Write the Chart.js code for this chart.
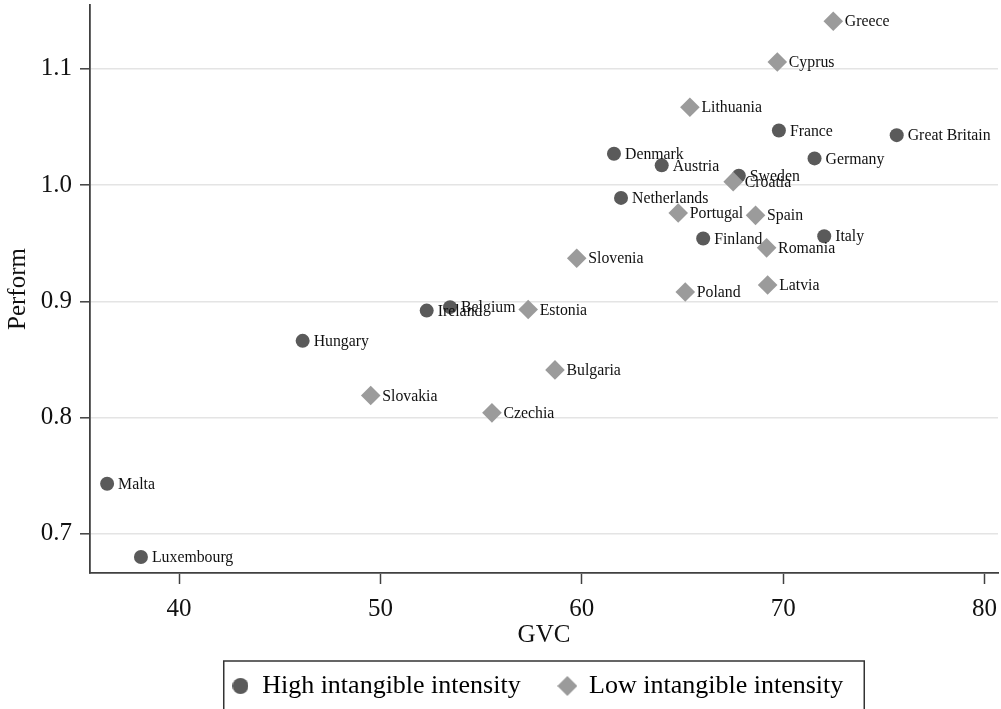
<!DOCTYPE html>
<html>
<head>
<meta charset="utf-8">
<script src="https://cdn.jsdelivr.net/npm/chart.js@4/dist/chart.umd.min.js"></script>
<style>
  html, body { margin: 0; padding: 0; background: #ffffff; }
  #wrap { width: 1001px; height: 709px; position: relative; }
</style>
</head>
<body>
<div id="wrap"><canvas id="c" width="1001" height="709"></canvas></div>
<script>
// ---- Data ----
const highNames = ['Malta','Luxembourg','Hungary','Ireland','Belgium','Denmark','Austria','Netherlands','Sweden','Finland','France','Germany','Italy','Great Britain'];
const highGVC = [36.43, 38.11, 46.14, 52.30, 53.46, 61.60, 63.97, 61.95, 67.80, 66.03, 69.79, 71.56, 72.04, 75.64];
const highPerform = [0.743, 0.680, 0.866, 0.892, 0.895, 1.027, 1.017, 0.989, 1.008, 0.954, 1.047, 1.023, 0.956, 1.043];

const lowNames = ['Greece','Cyprus','Lithuania','Croatia','Portugal','Spain','Romania','Slovenia','Poland','Latvia','Estonia','Bulgaria','Slovakia','Czechia'];
const lowGVC = [72.49, 69.71, 65.37, 67.52, 64.79, 68.63, 69.18, 59.75, 65.14, 69.23, 57.34, 58.67, 49.52, 55.54];
const lowPerform = [1.141, 1.106, 1.067, 1.003, 0.976, 0.974, 0.946, 0.937, 0.908, 0.914, 0.893, 0.841, 0.819, 0.804];

const seriesNames = ['High intangible intensity', 'Low intangible intensity'];
const xTicks = [40, 50, 60, 70, 80];
const yTicks = [0.7, 0.8, 0.9, 1.0, 1.1];
const xTitle = 'GVC';
const yTitle = 'Perform';

// ---- Styles ----
const SERIF = '"Liberation Serif", "Times New Roman", serif';
const HIGH_COLOR = '#5a5a5a';
const LOW_COLOR = '#9b9b9b';
const AXIS_COLOR = '#404040';

function toPoints(xs, ys) { return xs.map((x, i) => ({ x: x, y: ys[i] })); }

function makeIcon(kind, color) {
  const cv = document.createElement('canvas');
  const s = kind === 'circle' ? 16 : 20;
  cv.width = s; cv.height = s;
  const c = cv.getContext('2d');
  c.fillStyle = color;
  c.beginPath();
  if (kind === 'circle') {
    c.arc(s / 2, s / 2, s / 2, 0, Math.PI * 2);
  } else {
    c.moveTo(0, s / 2); c.lineTo(s / 2, 0); c.lineTo(s, s / 2); c.lineTo(s / 2, s); c.closePath();
  }
  c.fill();
  return cv;
}
const legendIcons = [makeIcon('circle', HIGH_COLOR), makeIcon('diamond', LOW_COLOR)];
const pointNames = [highNames, lowNames];

const labelPlugin = {
  id: 'pointLabels',
  afterDatasetDraw(chart, args) {
    const ctx = chart.ctx;
    const names = pointNames[args.index];
    const off = args.index === 0 ? 11 : 11.5;
    ctx.save();
    ctx.font = '15.8px ' + SERIF;
    ctx.fillStyle = '#111111';
    ctx.textAlign = 'left';
    ctx.textBaseline = 'middle';
    args.meta.data.forEach((el, i) => {
      ctx.fillText(names[i], el.x + off, el.y + 1);
    });
    ctx.restore();
  }
};

const legendBoxPlugin = {
  id: 'legendBox',
  afterLayout(chart) {
    const lg = chart.legend;
    if (lg) { lg.left -= 6.5; lg.right -= 6.5; }
  },
  afterDraw(chart) {
    const lg = chart.legend;
    if (!lg || !lg.legendHitBoxes || !lg.legendHitBoxes.length) return;
    const hb = lg.legendHitBoxes;
    const first = hb[0], last = hb[hb.length - 1];
    const cy = first.top + first.height / 2;
    const left = first.left - 8;
    const right = last.left + last.width + 21;
    const top = cy - 25;
    const ctx = chart.ctx;
    ctx.save();
    ctx.strokeStyle = '#333333';
    ctx.lineWidth = 1.5;
    ctx.strokeRect(left, top, right - left, 800);
    ctx.restore();
  }
};

new Chart(document.getElementById('c'), {
  type: 'scatter',
  data: {
    datasets: [
      {
        label: seriesNames[0],
        data: toPoints(highGVC, highPerform),
        pointStyle: 'circle',
        pointRadius: 7,
        pointHoverRadius: 7,
        backgroundColor: HIGH_COLOR,
        borderColor: HIGH_COLOR,
        borderWidth: 0,
        order: 1
      },
      {
        label: seriesNames[1],
        data: toPoints(lowGVC, lowPerform),
        pointStyle: 'rectRot',
        pointRadius: 9.8,
        pointHoverRadius: 9.8,
        backgroundColor: LOW_COLOR,
        borderColor: LOW_COLOR,
        borderWidth: 0,
        order: 0
      }
    ]
  },
  options: {
    responsive: false,
    animation: false,
    events: [],
    clip: false,
    layout: { autoPadding: false, padding: { top: 5, right: 3, left: 0, bottom: 0 } },
    scales: {
      x: {
        type: 'linear',
        min: 35.58,
        max: 80.67,
        afterBuildTicks: (s) => { s.ticks = xTicks.map(v => ({ value: v })); },
        afterFit: (s) => { s.height = 62; s.paddingLeft = 0; s.paddingRight = 0; },
        ticks: {
          font: { family: SERIF, size: 25 },
          color: '#111111',
          padding: 10,
          callback: (v) => String(v)
        },
        grid: { drawOnChartArea: false, tickColor: AXIS_COLOR, tickLength: 11, tickWidth: 1.5 },
        border: { color: AXIS_COLOR, width: 1.8 },
        title: {
          display: true,
          text: xTitle,
          font: { family: SERIF, size: 25 },
          color: '#111111',
          padding: { top: 0, bottom: -15 }
        }
      },
      y: {
        type: 'linear',
        min: 0.6662,
        max: 1.155,
        afterBuildTicks: (s) => { s.ticks = yTicks.map(v => ({ value: v })); },
        afterFit: (s) => { s.width = 90; s.paddingTop = 0; s.paddingBottom = 0; },
        ticks: {
          font: { family: SERIF, size: 25 },
          color: '#111111',
          padding: 8,
          callback: (v) => Number(v).toFixed(1)
        },
        grid: { color: '#e4e4e4', lineWidth: 1.6, tickColor: AXIS_COLOR, tickLength: 10, tickWidth: 1.5 },
        border: { color: AXIS_COLOR, width: 1.8 },
        title: {
          display: true,
          text: yTitle,
          font: { family: SERIF, size: 25 },
          color: '#111111',
          padding: { top: 3, bottom: 0 }
        }
      }
    },
    plugins: {
      tooltip: { enabled: false },
      legend: {
        display: true,
        position: 'bottom',
        fullSize: false,
        labels: {
          font: { family: SERIF, size: 26 },
          color: '#111111',
          usePointStyle: true,
          boxWidth: 17.4,
          boxHeight: 26,
          padding: 38,
          sort: (a, b) => a.datasetIndex - b.datasetIndex,
          generateLabels: (chart) => chart.data.datasets.map((ds, i) => ({
            text: ds.label,
            pointStyle: legendIcons[i],
            fillStyle: i === 0 ? HIGH_COLOR : LOW_COLOR,
            strokeStyle: i === 0 ? HIGH_COLOR : LOW_COLOR,
            lineWidth: 0,
            hidden: false,
            datasetIndex: i
          }))
        }
      }
    }
  },
  plugins: [labelPlugin, legendBoxPlugin]
});
</script>
</body>
</html>
